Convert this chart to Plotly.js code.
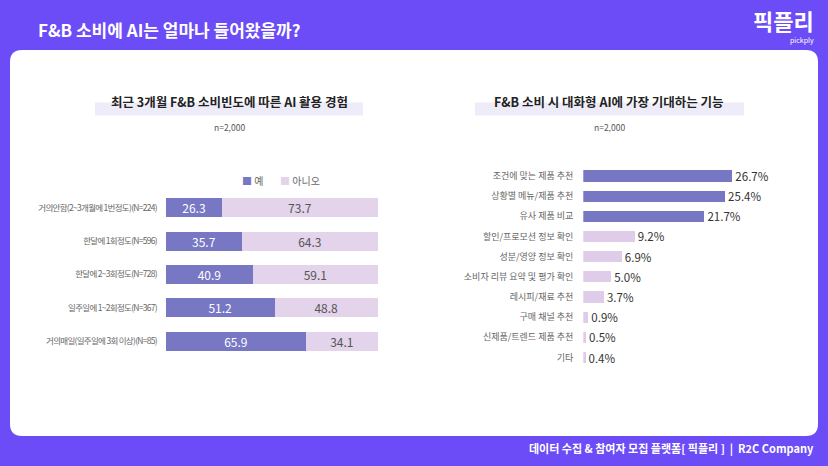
<!DOCTYPE html>
<html>
<head>
<meta charset="utf-8">
<script src="https://cdn.plot.ly/plotly-3.0.1.min.js"></script>
<style>
  html, body { margin: 0; padding: 0; background: #6C4CF6; }
  #chart { width: 828px; height: 466px; }
  /* condensed category labels on the frequency chart */
  #chart .ytick text { letter-spacing: -0.7px; }
</style>
</head>
<body>
<div id="chart"></div>
<script>
// Left chart: AI usage by F&B spending frequency (stacked 100%)
const freqCategories = [
  "거의안함(2~3개월에 1번정도)(N=224)",
  "한달에 1회정도(N=596)",
  "한달에 2~3회정도(N=728)",
  "일주일에 1~2회정도(N=367)",
  "거의매일(일주일에 3회 이상)(N=85)"
];
const yesValues = [26.3, 35.7, 40.9, 51.2, 65.9];
const noValues = [73.7, 64.3, 59.1, 48.8, 34.1];
const seriesNames = ["예", "아니오"];

// Right chart: most expected features of conversational AI
const featureCategories = [
  "조건에 맞는 제품 추천",
  "상황별 메뉴/제품 추천",
  "유사 제품 비교",
  "할인/프로모션 정보 확인",
  "성분/영양 정보 확인",
  "소비자 리뷰 요약 및 평가 확인",
  "레시피/재료 추천",
  "구매 채널 추천",
  "신제품/트렌드 제품 추천",
  "기타"
];
const featureValues = [26.7, 25.4, 21.7, 9.2, 6.9, 5.0, 3.7, 0.9, 0.5, 0.4];
const featureTopCount = 3;

const PURPLE_BG = "#6C4CF6";
const DARK_BAR = "#7877C3";
const LIGHT_BAR = "#E3D3EB";
const FONT = "Noto Sans CJK KR, Noto Sans, sans-serif";
const W = 828, H = 466;
const px = x => x / W;
const py = y => 1 - y / H;

const traces = [
  {
    type: "bar", orientation: "h", name: seriesNames[0],
    y: freqCategories, x: yesValues,
    xaxis: "x", yaxis: "y",
    marker: { color: DARK_BAR },
    width: 0.57,
    text: yesValues.map(v => v.toFixed(1)),
    textposition: "inside", insidetextanchor: "middle", constraintext: "none",
    textfont: { family: FONT, size: 12, color: "#FFFFFF" },
    hoverinfo: "skip"
  },
  {
    type: "bar", orientation: "h", name: seriesNames[1],
    y: freqCategories, x: noValues,
    xaxis: "x", yaxis: "y",
    marker: { color: LIGHT_BAR },
    width: 0.57,
    text: noValues.map(v => v.toFixed(1)),
    textposition: "inside", insidetextanchor: "middle", constraintext: "none",
    textfont: { family: FONT, size: 12, color: "#555555" },
    hoverinfo: "skip"
  },
  {
    type: "bar", orientation: "h",
    y: featureCategories, x: featureValues,
    xaxis: "x2", yaxis: "y2",
    marker: { color: featureValues.map((v, i) => i < featureTopCount ? DARK_BAR : "#DFCCE9") },
    width: 0.55,
    texttemplate: "%{x:.1f}%",
    textposition: "outside", cliponaxis: false, constraintext: "none",
    textfont: { family: FONT, size: 11.5, color: "#333333" },
    hoverinfo: "skip"
  }
];

// rounded white card
const cx0 = 10, cy0 = 50, cx1 = 818, cy1 = 436, r = 12;
const cardPath =
  `M ${cx0 + r},${cy0} L ${cx1 - r},${cy0} Q ${cx1},${cy0} ${cx1},${cy0 + r} ` +
  `L ${cx1},${cy1 - r} Q ${cx1},${cy1} ${cx1 - r},${cy1} L ${cx0 + r},${cy1} ` +
  `Q ${cx0},${cy1} ${cx0},${cy1 - r} L ${cx0},${cy0 + r} Q ${cx0},${cy0} ${cx0 + r},${cy0} Z`;

const layout = {
  width: W, height: H,
  margin: { l: 0, r: 0, t: 0, b: 0 },
  paper_bgcolor: PURPLE_BG,
  plot_bgcolor: "rgba(0,0,0,0)",
  showlegend: false,
  barmode: "stack",
  bargap: 0,
  font: { family: FONT, color: "#333" },
  xaxis: {
    domain: [px(166), px(378)], range: [0, 100],
    showgrid: false, zeroline: false, showticklabels: false, fixedrange: true
  },
  yaxis: {
    domain: [py(357.7), py(191)],
    type: "category", autorange: "reversed",
    showgrid: false, zeroline: false, ticks: "",
    ticklabelstandoff: 8,
    tickfont: { family: FONT, size: 8.5, color: "#666666" },
    fixedrange: true
  },
  xaxis2: {
    anchor: "y2",
    domain: [px(583.3), px(750.8)], range: [0, 30],
    showgrid: false, zeroline: false, showticklabels: false, fixedrange: true
  },
  yaxis2: {
    anchor: "x2",
    domain: [py(367.6), py(165.9)],
    type: "category", autorange: "reversed",
    showgrid: false, zeroline: false, ticks: "",
    ticklabelstandoff: 9,
    tickfont: { family: FONT, size: 9, color: "#666666" },
    fixedrange: true
  },
  shapes: [
    { type: "path", xref: "paper", yref: "paper", layer: "below",
      path: cardPath.replace(/(-?\d+(?:\.\d+)?),(-?\d+(?:\.\d+)?)/g,
        (m, a, b) => `${px(+a)},${py(+b)}`),
      fillcolor: "#FFFFFF", line: { width: 0 } },
    // title highlight strips
    { type: "rect", xref: "paper", yref: "paper", layer: "below",
      x0: px(95), x1: px(363), y0: py(115.5), y1: py(102.5),
      fillcolor: "#EFECFA", line: { width: 0 } },
    { type: "rect", xref: "paper", yref: "paper", layer: "below",
      x0: px(475), x1: px(744), y0: py(115.5), y1: py(102.5),
      fillcolor: "#EFECFA", line: { width: 0 } }
  ],
  annotations: [
    { text: "<b>F&B 소비에 AI는 얼마나 들어왔을까?</b>", xref: "paper", yref: "paper",
      x: px(36), y: py(30), xanchor: "left", yanchor: "middle", showarrow: false,
      font: { family: FONT, size: 17, color: "#FFFFFF" } },
    { text: "<b>픽플리</b>", xref: "paper", yref: "paper",
      x: px(816), y: py(20), xanchor: "right", yanchor: "middle", showarrow: false,
      font: { family: FONT, size: 22, color: "#FFFFFF" } },
    { text: "pickply", xref: "paper", yref: "paper",
      x: px(816), y: py(40), xanchor: "right", yanchor: "middle", showarrow: false,
      font: { family: FONT, size: 7, color: "#FFFFFF" } },
    { text: "<b>최근 3개월 F&B 소비빈도에 따른 AI 활용 경험</b>", xref: "paper", yref: "paper",
      x: px(229), y: py(102), xanchor: "center", yanchor: "middle", showarrow: false,
      font: { family: FONT, size: 12.5, color: "#222222" } },
    { text: "<b>F&B 소비 시 대화형 AI에 가장 기대하는 기능</b>", xref: "paper", yref: "paper",
      x: px(609), y: py(102), xanchor: "center", yanchor: "middle", showarrow: false,
      font: { family: FONT, size: 12.5, color: "#222222" } },
    { text: "n=2,000", xref: "paper", yref: "paper",
      x: px(229), y: py(127), xanchor: "center", yanchor: "middle", showarrow: false,
      font: { family: FONT, size: 8.5, color: "#555555" } },
    { text: "n=2,000", xref: "paper", yref: "paper",
      x: px(609), y: py(127), xanchor: "center", yanchor: "middle", showarrow: false,
      font: { family: FONT, size: 8.5, color: "#555555" } },
    { text: `<span style="color:${DARK_BAR}">■</span> ${seriesNames[0]}`, xref: "paper", yref: "paper",
      x: px(240), y: py(181), xanchor: "left", yanchor: "middle", showarrow: false,
      font: { family: FONT, size: 10, color: "#666666" } },
    { text: `<span style="color:${LIGHT_BAR}">■</span> ${seriesNames[1]}`, xref: "paper", yref: "paper",
      x: px(278), y: py(181), xanchor: "left", yanchor: "middle", showarrow: false,
      font: { family: FONT, size: 10, color: "#666666" } },
    { text: "<b>데이터 수집 & 참여자 모집 플랫폼[ 픽플리 ]  |  R2C Company</b>", xref: "paper", yref: "paper",
      x: px(816), y: py(448), xanchor: "right", yanchor: "middle", showarrow: false,
      font: { family: FONT, size: 11, color: "#FFFFFF" } }
  ]
};

Plotly.newPlot("chart", traces, layout, { staticPlot: true, displayModeBar: false });
</script>
</body>
</html>
